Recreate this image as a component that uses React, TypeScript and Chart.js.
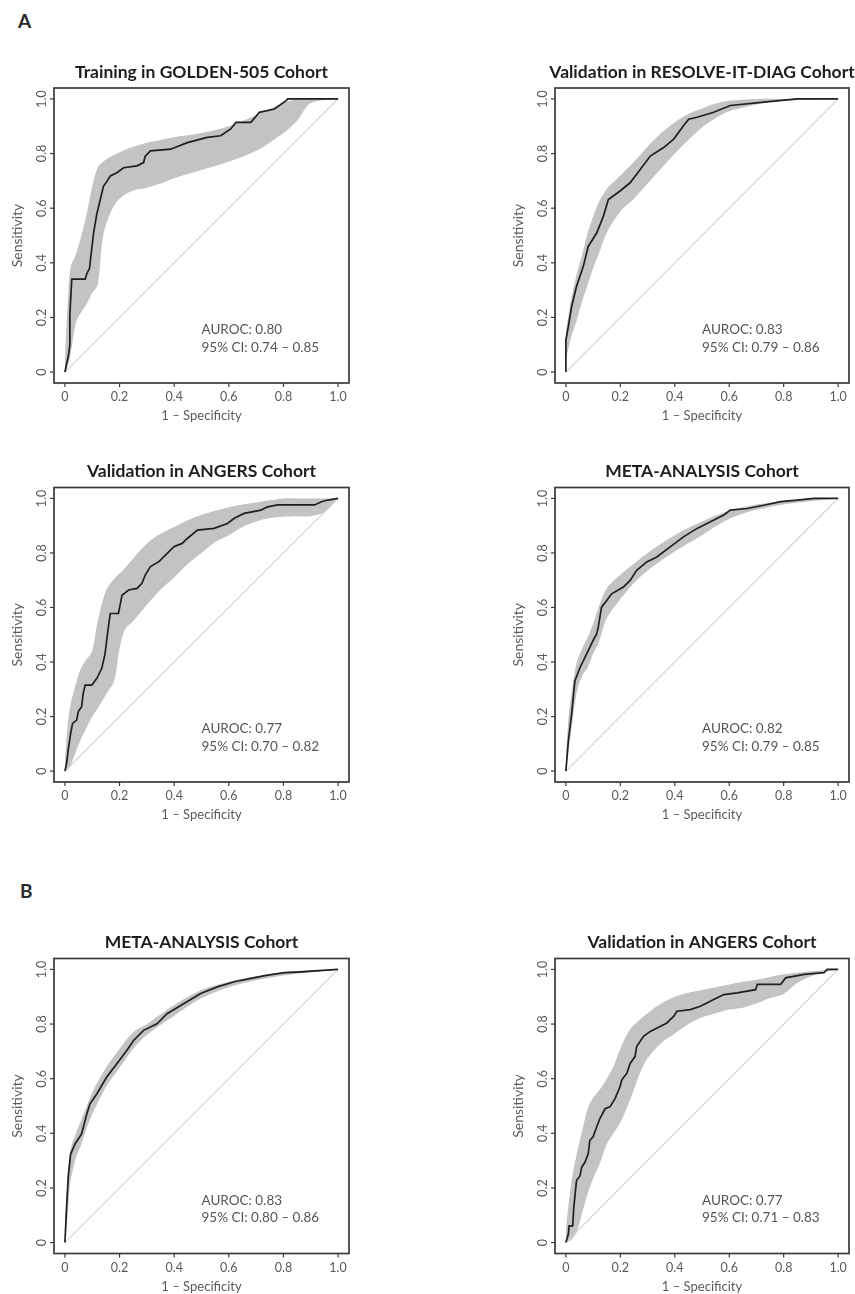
import React, { useEffect, useRef } from "react";
import { Chart, registerables } from "chart.js";

Chart.register(...registerables);

// ---------- shared axis text ----------
const TICK_VALUES = [0, 0.2, 0.4, 0.6, 0.8, 1.0];
const TICK_LABELS = ["0", "0.2", "0.4", "0.6", "0.8", "1.0"];
const X_TITLE = "1 \u2013 Specificity";
const Y_TITLE = "Sensitivity";
const PANEL_LETTERS = ["A", "B"];

const TITLES = [
  "Training in GOLDEN-505 Cohort",
  "Validation in RESOLVE-IT-DIAG Cohort",
  "Validation in ANGERS Cohort",
  "META-ANALYSIS Cohort",
  "META-ANALYSIS Cohort",
  "Validation in ANGERS Cohort",
];
const AUROC = ["0.80", "0.83", "0.77", "0.82", "0.83", "0.77"];
const CI_LOW = ["0.74", "0.79", "0.70", "0.79", "0.80", "0.71"];
const CI_HIGH = ["0.85", "0.86", "0.82", "0.85", "0.86", "0.83"];

// ---------- panel 1: Training GOLDEN-505 ----------
const roc1X = [0, 0.006, 0.012, 0.018, 0.018, 0.025, 0.074, 0.08, 0.09, 0.098, 0.105, 0.117, 0.129, 0.141, 0.155, 0.166, 0.19, 0.215, 0.264, 0.288, 0.294, 0.313, 0.387, 0.448, 0.521, 0.57, 0.607, 0.626, 0.681, 0.712, 0.767, 0.81, 0.816, 1.0];
const roc1Y = [0, 0.03, 0.055, 0.1, 0.21, 0.34, 0.34, 0.36, 0.38, 0.45, 0.51, 0.58, 0.63, 0.68, 0.7, 0.718, 0.73, 0.748, 0.755, 0.767, 0.79, 0.81, 0.816, 0.84, 0.859, 0.865, 0.89, 0.914, 0.914, 0.951, 0.963, 0.994, 1.0, 1.0];
const band1X = [0, 0.01, 0.02, 0.04, 0.06, 0.08, 0.1, 0.12, 0.14, 0.17, 0.2, 0.25, 0.3, 0.35, 0.4, 0.5, 0.6, 0.7, 0.8, 0.85, 0.9, 1.0];
const band1Hi = [0.05, 0.25, 0.38, 0.43, 0.5, 0.58, 0.68, 0.75, 0.77, 0.79, 0.805, 0.825, 0.84, 0.85, 0.86, 0.875, 0.9, 0.94, 0.985, 1.0, 1.0, 1.0];
const band1Lo = [0, 0.02, 0.06, 0.18, 0.22, 0.25, 0.29, 0.32, 0.5, 0.59, 0.635, 0.665, 0.675, 0.69, 0.71, 0.74, 0.77, 0.81, 0.875, 0.92, 0.985, 1.0];

// ---------- panel 2: RESOLVE-IT-DIAG ----------
const roc2X = [0, 0, 0.009, 0.021, 0.039, 0.064, 0.082, 0.113, 0.138, 0.156, 0.199, 0.236, 0.273, 0.31, 0.359, 0.396, 0.432, 0.451, 0.482, 0.543, 0.604, 0.727, 0.85, 1.0];
const roc2Y = [0, 0.117, 0.166, 0.24, 0.313, 0.387, 0.46, 0.509, 0.571, 0.632, 0.663, 0.693, 0.742, 0.791, 0.822, 0.853, 0.902, 0.926, 0.933, 0.951, 0.976, 0.988, 1.0, 1.0];
const band2X = [0, 0.01, 0.02, 0.04, 0.06, 0.08, 0.1, 0.12, 0.15, 0.18, 0.21, 0.25, 0.3, 0.35, 0.4, 0.45, 0.5, 0.55, 0.6, 0.7, 0.8, 0.9, 1.0];
const band2Hi = [0.15, 0.21, 0.27, 0.36, 0.43, 0.51, 0.57, 0.62, 0.67, 0.7, 0.73, 0.77, 0.825, 0.875, 0.915, 0.945, 0.965, 0.983, 0.993, 1.0, 1.0, 1.0, 1.0];
const band2Lo = [0.05, 0.09, 0.13, 0.19, 0.26, 0.32, 0.38, 0.43, 0.51, 0.56, 0.6, 0.635, 0.69, 0.745, 0.8, 0.85, 0.895, 0.93, 0.955, 0.98, 0.993, 0.998, 1.0];

// ---------- panel 3: ANGERS (A) ----------
const roc3X = [0, 0.006, 0.012, 0.021, 0.028, 0.043, 0.049, 0.061, 0.067, 0.074, 0.098, 0.117, 0.135, 0.147, 0.153, 0.16, 0.166, 0.196, 0.209, 0.233, 0.264, 0.282, 0.294, 0.313, 0.344, 0.368, 0.399, 0.429, 0.448, 0.485, 0.546, 0.595, 0.62, 0.656, 0.718, 0.742, 0.779, 0.914, 0.939, 0.963, 1.0];
const roc3Y = [0, 0.028, 0.077, 0.138, 0.175, 0.187, 0.218, 0.236, 0.285, 0.315, 0.315, 0.34, 0.377, 0.431, 0.48, 0.535, 0.578, 0.578, 0.645, 0.664, 0.67, 0.689, 0.719, 0.75, 0.768, 0.792, 0.823, 0.835, 0.853, 0.884, 0.89, 0.908, 0.927, 0.945, 0.957, 0.969, 0.976, 0.976, 0.988, 0.994, 1.0];
const band3X = [0, 0.01, 0.02, 0.04, 0.06, 0.08, 0.1, 0.12, 0.15, 0.18, 0.2, 0.22, 0.25, 0.3, 0.35, 0.4, 0.45, 0.5, 0.55, 0.6, 0.65, 0.7, 0.75, 0.8, 0.85, 0.9, 0.95, 1.0];
const band3Hi = [0.03, 0.17, 0.24, 0.32, 0.38, 0.41, 0.44, 0.55, 0.66, 0.705, 0.725, 0.745, 0.78, 0.835, 0.87, 0.895, 0.92, 0.94, 0.955, 0.968, 0.978, 0.985, 0.993, 1.0, 1.0, 1.0, 1.0, 1.0];
const band3Lo = [0, 0.005, 0.02, 0.07, 0.12, 0.16, 0.2, 0.23, 0.28, 0.33, 0.45, 0.52, 0.55, 0.61, 0.665, 0.71, 0.76, 0.8, 0.84, 0.865, 0.895, 0.915, 0.928, 0.933, 0.935, 0.935, 0.95, 1.0];

// ---------- panel 4: META-ANALYSIS (A) ----------
const roc4X = [0, 0.009, 0.021, 0.033, 0.052, 0.076, 0.1, 0.113, 0.119, 0.131, 0.15, 0.168, 0.211, 0.236, 0.26, 0.297, 0.334, 0.383, 0.432, 0.482, 0.531, 0.58, 0.604, 0.666, 0.727, 0.789, 0.85, 0.911, 1.0];
const roc4Y = [0, 0.11, 0.209, 0.331, 0.38, 0.429, 0.479, 0.503, 0.528, 0.601, 0.626, 0.65, 0.675, 0.699, 0.736, 0.767, 0.785, 0.822, 0.859, 0.89, 0.914, 0.939, 0.957, 0.963, 0.975, 0.988, 0.994, 1.0, 1.0];
const band4X = [0, 0.01, 0.02, 0.04, 0.06, 0.08, 0.1, 0.12, 0.15, 0.2, 0.25, 0.3, 0.4, 0.5, 0.6, 0.7, 0.8, 0.9, 1.0];
const band4Hi = [0.05, 0.2, 0.28, 0.4, 0.45, 0.49, 0.54, 0.6, 0.67, 0.72, 0.76, 0.8, 0.865, 0.915, 0.955, 0.978, 0.99, 1.0, 1.0];
const band4Lo = [0, 0.08, 0.15, 0.29, 0.35, 0.38, 0.43, 0.47, 0.56, 0.63, 0.69, 0.735, 0.805, 0.865, 0.925, 0.958, 0.978, 0.99, 1.0];

// ---------- panel 5: META-ANALYSIS (B) ----------
const roc5X = [0, 0.006, 0.012, 0.021, 0.037, 0.061, 0.08, 0.092, 0.117, 0.153, 0.19, 0.227, 0.252, 0.288, 0.337, 0.374, 0.436, 0.497, 0.558, 0.62, 0.681, 0.742, 0.804, 0.865, 1.0];
const roc5Y = [0, 0.128, 0.239, 0.324, 0.361, 0.398, 0.471, 0.508, 0.545, 0.606, 0.655, 0.704, 0.741, 0.777, 0.801, 0.838, 0.875, 0.912, 0.936, 0.955, 0.967, 0.979, 0.988, 0.991, 1.0];
const band5X = [0, 0.01, 0.02, 0.04, 0.06, 0.08, 0.1, 0.15, 0.2, 0.25, 0.3, 0.4, 0.5, 0.6, 0.7, 0.8, 0.9, 1.0];
const band5Hi = [0.05, 0.25, 0.34, 0.4, 0.45, 0.5, 0.55, 0.64, 0.71, 0.77, 0.8, 0.87, 0.925, 0.955, 0.975, 0.99, 0.998, 1.0];
const band5Lo = [0, 0.1, 0.22, 0.31, 0.36, 0.42, 0.47, 0.57, 0.64, 0.71, 0.76, 0.83, 0.895, 0.935, 0.96, 0.978, 0.99, 1.0];

// ---------- panel 6: ANGERS (B) ----------
const roc6X = [0, 0.009, 0.012, 0.025, 0.029, 0.039, 0.052, 0.058, 0.07, 0.082, 0.088, 0.1, 0.113, 0.125, 0.144, 0.162, 0.181, 0.199, 0.205, 0.224, 0.236, 0.254, 0.26, 0.285, 0.31, 0.346, 0.371, 0.383, 0.396, 0.408, 0.457, 0.494, 0.543, 0.58, 0.629, 0.697, 0.703, 0.789, 0.807, 0.875, 0.948, 0.96, 1.0];
const roc6Y = [0, 0.031, 0.061, 0.061, 0.129, 0.227, 0.245, 0.276, 0.294, 0.325, 0.374, 0.387, 0.423, 0.454, 0.49, 0.497, 0.528, 0.571, 0.595, 0.62, 0.656, 0.681, 0.718, 0.755, 0.773, 0.791, 0.804, 0.816, 0.828, 0.847, 0.853, 0.865, 0.89, 0.908, 0.914, 0.926, 0.945, 0.945, 0.969, 0.982, 0.988, 1.0, 1.0];
const band6X = [0, 0.02, 0.04, 0.06, 0.08, 0.1, 0.125, 0.15, 0.175, 0.2, 0.235, 0.27, 0.3, 0.35, 0.4, 0.45, 0.5, 0.55, 0.6, 0.65, 0.7, 0.75, 0.8, 0.85, 0.9, 0.95, 1.0];
const band6Hi = [0.05, 0.22, 0.325, 0.41, 0.49, 0.53, 0.56, 0.6, 0.645, 0.71, 0.78, 0.815, 0.84, 0.875, 0.9, 0.915, 0.925, 0.935, 0.945, 0.955, 0.962, 0.972, 0.982, 0.988, 0.993, 0.997, 1.0];
const band6Lo = [0, 0.01, 0.04, 0.11, 0.18, 0.235, 0.29, 0.36, 0.4, 0.44, 0.52, 0.615, 0.675, 0.73, 0.765, 0.8, 0.825, 0.84, 0.853, 0.86, 0.875, 0.895, 0.91, 0.95, 0.975, 0.99, 1.0];

const ROC_X = [roc1X, roc2X, roc3X, roc4X, roc5X, roc6X];
const ROC_Y = [roc1Y, roc2Y, roc3Y, roc4Y, roc5Y, roc6Y];
const BAND_X = [band1X, band2X, band3X, band4X, band5X, band6X];
const BAND_HI = [band1Hi, band2Hi, band3Hi, band4Hi, band5Hi, band6Hi];
const BAND_LO = [band1Lo, band2Lo, band3Lo, band4Lo, band5Lo, band6Lo];
const DIAG_X = [0, 1];
const DIAG_Y = [0, 1];

// ---------- layout (styles only) ----------
const CW = 427;
const COL_LEFT = [0, 428];
const COL_PAD = [
  { left: 54, right: 78 },
  { left: 127, right: 6 },
];
const ROWS = [
  { top: 40, height: 400, padTop: 48, padBottom: 57 },
  { top: 440, height: 400, padTop: 47.5, padBottom: 58 },
  { top: 900, height: 394, padTop: 58.5, padBottom: 40.5 },
];
const FONT = "Lato, 'Open Sans', 'DejaVu Sans', sans-serif";

function pts(xs: number[], ys: number[]) {
  return xs.map((x, i) => ({ x, y: ys[i] }));
}

function makeDecor(idx: number) {
  return {
    id: "rdecor" + idx,
    afterDatasetsDraw(chart: any) {
      const { ctx, chartArea: a, scales } = chart;
      const sx = scales.x;
      const sy = scales.y;
      ctx.save();
      // frame
      ctx.strokeStyle = "#3a3a3a";
      ctx.lineWidth = 1.7;
      ctx.strokeRect(a.left, a.top, a.right - a.left, a.bottom - a.top);
      // tick marks
      ctx.lineWidth = 1.2;
      TICK_VALUES.forEach((v) => {
        const px = sx.getPixelForValue(v);
        ctx.beginPath();
        ctx.moveTo(px, a.bottom);
        ctx.lineTo(px, a.bottom + 4);
        ctx.stroke();
        const py = sy.getPixelForValue(v);
        ctx.beginPath();
        ctx.moveTo(a.left, py);
        ctx.lineTo(a.left - 4, py);
        ctx.stroke();
      });
      // tick labels
      ctx.fillStyle = "#5a5a5a";
      ctx.font = "12.5px " + FONT;
      ctx.textAlign = "center";
      ctx.textBaseline = "middle";
      TICK_VALUES.forEach((v, i) => {
        ctx.fillText(TICK_LABELS[i], sx.getPixelForValue(v), a.bottom + 14);
        ctx.save();
        ctx.translate(a.left - 12, sy.getPixelForValue(v));
        ctx.rotate(-Math.PI / 2);
        ctx.fillText(TICK_LABELS[i], 0, 0);
        ctx.restore();
      });
      // axis titles
      ctx.font = "13px " + FONT;
      ctx.fillText(X_TITLE, (a.left + a.right) / 2, a.bottom + 33);
      ctx.save();
      ctx.translate(a.left - 37, (a.top + a.bottom) / 2);
      ctx.rotate(-Math.PI / 2);
      ctx.font = "14px " + FONT;
      ctx.fillText(Y_TITLE, 0, 0);
      ctx.restore();
      // title
      ctx.fillStyle = "#1e1e1e";
      ctx.font = "bold 17.5px " + FONT;
      ctx.fillText(TITLES[idx], (a.left + a.right) / 2, a.top - 16);
      // AUROC annotation
      ctx.fillStyle = "#555";
      ctx.font = "13.5px " + FONT;
      ctx.textAlign = "left";
      ctx.fillText("AUROC: " + AUROC[idx], sx.getPixelForValue(0.5), sy.getPixelForValue(0.155));
      ctx.fillText(
        "95% CI: " + CI_LOW[idx] + " \u2013 " + CI_HIGH[idx],
        sx.getPixelForValue(0.5),
        sy.getPixelForValue(0.09)
      );
      ctx.restore();
    },
  };
}

function Panel({ idx }: { idx: number }) {
  const ref = useRef<HTMLCanvasElement | null>(null);
  const col = idx % 2;
  const row = Math.floor(idx / 2);
  const R = ROWS[row];
  const P = COL_PAD[col];

  useEffect(() => {
    if (!ref.current) return;
    const chart = new Chart(ref.current, {
      type: "line",
      data: {
        datasets: [
          {
            data: pts(ROC_X[idx], ROC_Y[idx]),
            borderColor: "#1f1f1f",
            borderWidth: 1.7,
            pointRadius: 0,
            fill: false,
            tension: 0,
          },
          {
            data: pts(DIAG_X, DIAG_Y),
            borderColor: "#d2d2d2",
            borderWidth: 1.2,
            pointRadius: 0,
            fill: false,
          },
          {
            data: pts(BAND_X[idx], BAND_HI[idx]),
            borderColor: "rgba(0,0,0,0)",
            borderWidth: 0,
            pointRadius: 0,
            backgroundColor: "#c3c3c3",
            fill: "+1",
            tension: 0.3,
          },
          {
            data: pts(BAND_X[idx], BAND_LO[idx]),
            borderColor: "rgba(0,0,0,0)",
            borderWidth: 0,
            pointRadius: 0,
            fill: false,
            tension: 0.3,
          },
        ],
      },
      options: {
        animation: false,
        responsive: false,
        events: [],
        layout: {
          padding: { left: P.left, right: P.right, top: R.padTop, bottom: R.padBottom },
        },
        plugins: {
          legend: { display: false },
          title: { display: false },
          tooltip: { enabled: false },
        },
        scales: {
          x: { type: "linear", min: -0.04, max: 1.04, display: false },
          y: { type: "linear", min: -0.04, max: 1.04, display: false },
        },
      },
      plugins: [makeDecor(idx)],
    } as any);
    return () => chart.destroy();
  }, [idx]);

  return (
    <canvas
      ref={ref}
      width={CW}
      height={R.height}
      style={{
        position: "absolute",
        left: COL_LEFT[col],
        top: R.top,
        width: CW,
        height: R.height,
      }}
    />
  );
}

export default function App() {
  return (
    <div
      style={{
        position: "absolute",
        left: 0,
        top: 0,
        width: 855,
        height: 1294,
        background: "#fff",
        overflow: "hidden",
      }}
    >
      <div
        style={{
          position: "absolute",
          left: 18,
          top: 9,
          font: "bold 19px " + FONT,
          color: "#2a2a2a",
        }}
      >
        {PANEL_LETTERS[0]}
      </div>
      <div
        style={{
          position: "absolute",
          left: 20,
          top: 879,
          font: "bold 19px " + FONT,
          color: "#2a2a2a",
        }}
      >
        {PANEL_LETTERS[1]}
      </div>
      {[0, 1, 2, 3, 4, 5].map((i) => (
        <Panel key={i} idx={i} />
      ))}
    </div>
  );
}
